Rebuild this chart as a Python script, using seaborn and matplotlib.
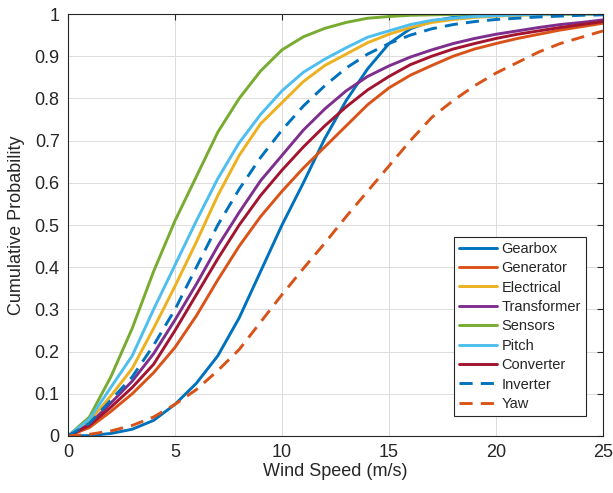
import matplotlib
matplotlib.use("Agg")
import matplotlib.pyplot as plt
import numpy as np
import pandas as pd
import seaborn as sns

# wind speed bins (m/s)
wind_speed = list(range(0, 26))

gearbox = [0, 0.001, 0.006, 0.016, 0.037, 0.075, 0.125, 0.19, 0.28, 0.39, 0.50, 0.60, 0.705,
           0.795, 0.87, 0.93, 0.965, 0.983, 0.992, 0.996, 0.998, 0.999, 1, 1, 1, 1]
generator = [0, 0.02, 0.058, 0.10, 0.15, 0.21, 0.285, 0.37, 0.45, 0.52, 0.58, 0.635, 0.685,
             0.735, 0.785, 0.825, 0.855, 0.878, 0.90, 0.917, 0.93, 0.942, 0.952, 0.962, 0.97, 0.978]
electrical = [0, 0.035, 0.095, 0.16, 0.255, 0.355, 0.46, 0.57, 0.665, 0.74, 0.79, 0.84, 0.878,
              0.905, 0.932, 0.952, 0.968, 0.98, 0.987, 0.992, 0.995, 0.997, 0.998, 0.999, 1, 1]
transformer = [0, 0.028, 0.078, 0.13, 0.195, 0.275, 0.36, 0.45, 0.53, 0.605, 0.665, 0.725, 0.775,
               0.818, 0.852, 0.877, 0.898, 0.915, 0.93, 0.942, 0.952, 0.96, 0.968, 0.975, 0.98, 0.986]
sensors = [0, 0.045, 0.14, 0.255, 0.39, 0.51, 0.615, 0.72, 0.80, 0.865, 0.915, 0.946, 0.966,
           0.98, 0.99, 0.994, 0.997, 0.998, 0.999, 1, 1, 1, 1, 1, 1, 1]
pitch = [0, 0.04, 0.115, 0.19, 0.30, 0.405, 0.51, 0.61, 0.695, 0.762, 0.818, 0.862, 0.893,
         0.92, 0.945, 0.96, 0.975, 0.985, 0.99, 0.994, 0.996, 0.998, 0.999, 1, 1, 1]
converter = [0, 0.025, 0.068, 0.115, 0.17, 0.25, 0.335, 0.42, 0.50, 0.57, 0.63, 0.685, 0.735,
             0.78, 0.82, 0.852, 0.88, 0.90, 0.917, 0.93, 0.942, 0.952, 0.96, 0.968, 0.975, 0.982]
inverter = [0, 0.03, 0.085, 0.14, 0.215, 0.30, 0.40, 0.50, 0.585, 0.66, 0.725, 0.782, 0.83,
            0.872, 0.905, 0.93, 0.95, 0.965, 0.975, 0.982, 0.987, 0.99, 0.993, 0.995, 0.997, 0.998]
yaw = [0, 0.004, 0.012, 0.025, 0.045, 0.075, 0.11, 0.155, 0.205, 0.27, 0.335, 0.397, 0.457,
       0.52, 0.58, 0.64, 0.70, 0.755, 0.795, 0.83, 0.86, 0.885, 0.91, 0.93, 0.945, 0.96]

series = [
    ("Gearbox", gearbox, "#0072BD", "-"),
    ("Generator", generator, "#D95319", "-"),
    ("Electrical", electrical, "#EDB120", "-"),
    ("Transformer", transformer, "#7E2F8E", "-"),
    ("Sensors", sensors, "#77AC30", "-"),
    ("Pitch", pitch, "#4DBEEE", "-"),
    ("Converter", converter, "#A2142F", "-"),
    ("Inverter", inverter, "#0072BD", (0, (4.5, 2.8))),
    ("Yaw", yaw, "#D95319", (0, (4.5, 2.8))),
]

sns.set_style("whitegrid")
plt.rcParams['font.family'] = ['Liberation Sans', 'DejaVu Sans']

fig = plt.figure(figsize=(6.13, 4.93), dpi=100)
ax = fig.add_axes([68 / 613, 1 - 436 / 493, 535 / 613, 422 / 493])

for name, vals, color, ls in series:
    df = pd.DataFrame({"speed": wind_speed, "prob": vals})
    sns.lineplot(data=df, x="speed", y="prob", color=color, linestyle=ls,
                 linewidth=2.1, label=name, ax=ax)

ax.set_xlim(0, 25)
ax.set_ylim(0, 1)
ax.set_xticks(np.arange(0, 26, 5))
ax.set_yticks(np.arange(0, 1.01, 0.1))
ax.set_yticklabels(["0", "0.1", "0.2", "0.3", "0.4", "0.5", "0.6", "0.7", "0.8", "0.9", "1"])
ax.set_xlabel("Wind Speed (m/s)", fontsize=13, color="#262626", labelpad=1)
ax.set_ylabel("Cumulative Probability", fontsize=13, color="#262626", labelpad=7)
ax.tick_params(direction="in", length=4, width=0.8, labelsize=13, colors="#262626",
               top=True, right=True, pad=6)
ax.grid(True, color="#dcdcdc", linewidth=0.7)
for sp in ax.spines.values():
    sp.set_color("#262626")
    sp.set_linewidth(0.8)

leg = ax.legend(loc="lower right", bbox_to_anchor=(0.982, 0.03), fontsize=10.5,
                frameon=True, fancybox=False, edgecolor="#262626", framealpha=1,
                handlelength=2.6, handletextpad=0.3, labelspacing=0.37, borderpad=0.35)
leg.get_frame().set_linewidth(0.8)

fig.savefig("out.png", dpi=100)
plt.close(fig)
